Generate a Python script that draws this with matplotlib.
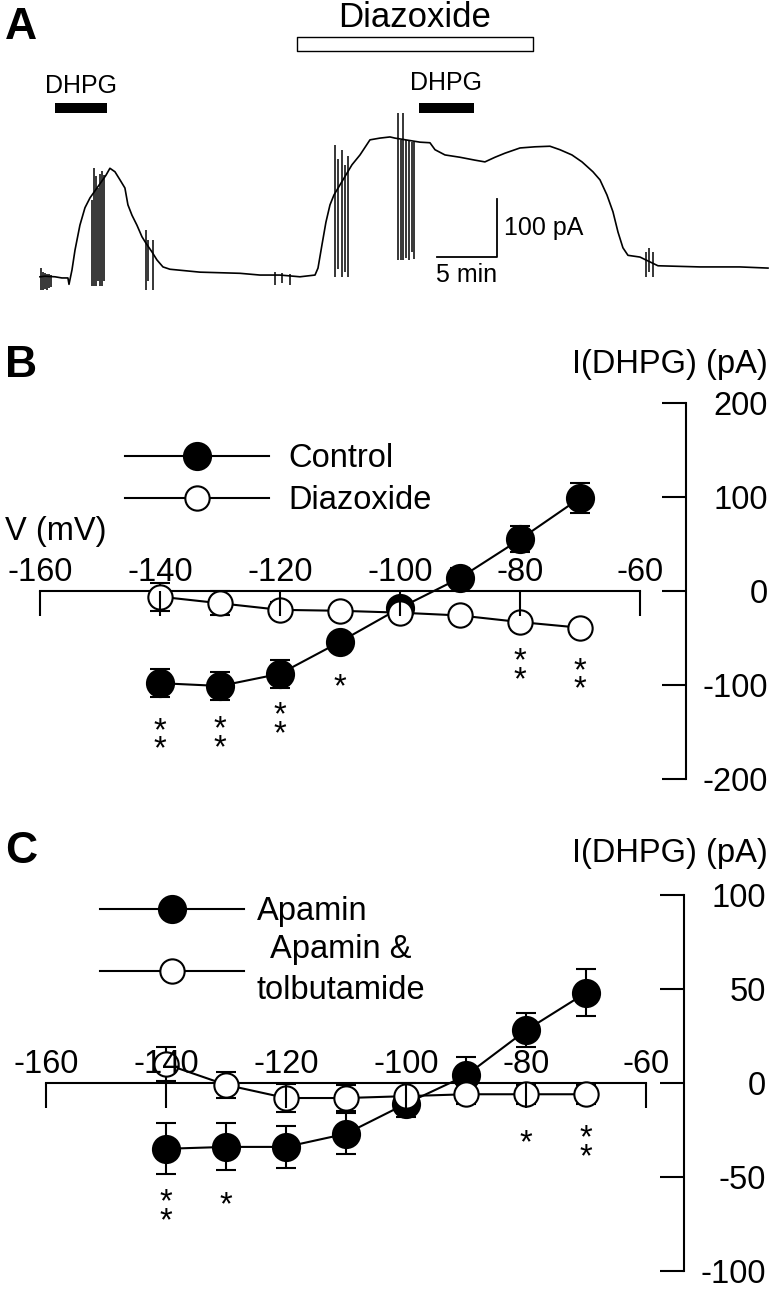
import matplotlib.pyplot as plt
import numpy as np

plt.rcParams['font.family'] = ['Liberation Sans', 'DejaVu Sans']
plt.rcParams['axes.unicode_minus'] = False

# ---- A: holding current trace (time in min, current in pA)
trace_t = [0, 0.42, 1.25, 1.83, 2.33, 2.42, 2.67, 2.92, 3.33, 3.75, 4.17, 5.5, 5.83, 6.25,
           6.67, 7.08, 7.33, 7.67, 8.08, 8.5, 8.83, 9.33, 9.75, 10.25, 10.83, 13.33, 16.67,
           18.33, 20, 21.67, 22.92, 23.17, 23.5, 23.83, 24.17, 24.5, 26, 26.67, 27.5, 28.33,
           29.17, 29.58, 31.67, 32.5, 32.92, 33.75, 35, 36.25, 37.08, 37.92, 38.75, 40, 41.25,
           42.5, 43.33, 44.33, 45.17, 46.08, 46.67, 47.25, 47.75, 48.17, 48.58, 49, 50, 51.5,
           55, 58.33, 60.67]
trace_i = [-3, -2, -3, -5, -5, -16, 9, 43, 86, 116, 133, 172, 184, 178, 164, 150, 121, 103,
           86, 66, 55, 40, 26, 14, 10, 5, 3, 0, 0, -3, 0, 12, 52, 91, 121, 138, 190, 207, 233,
           236, 238, 236, 229, 228, 216, 207, 203, 198, 195, 203, 210, 219, 221, 222, 216, 207,
           195, 178, 164, 138, 109, 74, 47, 34, 31, 16, 14, 14, 12]
# fast transients (voltage steps) drawn as vertical strokes
spike_t = [0.08, 0.25, 0.42, 0.58, 0.75, 0.92,
           4.33, 4.5, 4.67, 4.83, 5.0, 5.17, 5.33,
           8.83, 9.0, 9.42,
           19.6, 20.2, 20.8,
           24.6, 24.8, 25.2, 25.4, 25.7,
           29.83, 30.08, 30.25, 30.5, 30.75, 31.0, 31.17,
           50.5, 50.75, 51.1]
spike_lo = [-26, -26, -24, -26, -22, -20,
            -19, -19, -19, -10, -19, -19, -10,
            -26, -10, -26,
            -17, -14, -17,
            -3, 10, -3, 5, -3,
            26, 26, 26, 30, 26, 40, 28,
            -3, 5, -3]
spike_hi = [12, 5, 3, 2, 2, 0,
            130, 184, 170, 150, 175, 180, 172,
            78, 60, 60,
            5, 3, 2,
            224, 200, 215, 190, 205,
            279, 233, 279, 233, 233, 230, 229,
            40, 47, 40]
dhpg_start = [1.25, 31.58]
dhpg_end = [5.58, 36.17]
diaz_start, diaz_end = 21.42, 41.08
scale_min, scale_pa = 5, 100

# ---- B: I-V of DHPG current, control vs diazoxide
volt = [-140, -130, -120, -110, -100, -90, -80, -70]
ctrl = [-98, -101, -88, -54, -18, 14, 55, 99]
ctrl_err = [15, 15, 15, 8, 8, 10, 14, 16]
diaz = [-6, -13, -20, -21, -23, -26, -33, -39]
diaz_err = [15, 13, 8, 6, 8, 6, 8, 6]
# significance marks: voltage, height of first star, number of stars
star_b_v = [-140, -130, -120, -110, -80, -70]
star_b_y = [-140, -138, -123, -93, -66, -76]
star_b_n = [2, 2, 2, 1, 2, 2]

# ---- C: apamin vs apamin & tolbutamide
apa = [-35, -34, -34, -27, -11, 4, 28, 48]
apa_err = [13.5, 12.5, 11, 11, 7, 10, 9, 12.5]
tol = [10, -1, -8, -8, -7, -6, -6, -6]
tol_err = [9, 7, 7.5, 7, 7, 5, 5, 5]
star_c_v = [-140, -130, -80, -70]
star_c_y = [-59, -60, -27, -25]
star_c_n = [2, 1, 1, 2]

W, H = 771, 1301
FS = 23.5
fig = plt.figure(figsize=(W / 100, H / 100), dpi=100)


def px_axes(top, bottom):
    return fig.add_axes([0, 1 - bottom / H, 1, (bottom - top) / H])


# ---------------- panel A
axA = px_axes(0, 300)
axA.set_xlim(-3.33, 60.92)
axA.set_ylim(-43, 474)
axA.axis('off')
axA.plot(trace_t, trace_i, color='k', lw=1.2)
axA.vlines(spike_t, spike_lo, spike_hi, color='k', lw=1.1)
axA.broken_barh([(s, e - s) for s, e in zip(dhpg_start, dhpg_end)], (279, 17), facecolor='k')
axA.broken_barh([(diaz_start, diaz_end - diaz_start)], (386, 24), facecolor='white',
                edgecolor='k', lw=1)
axA.text(np.mean([dhpg_start[0], dhpg_end[0]]), 314, 'DHPG', ha='center', va='baseline', fontsize=18)
axA.text(np.mean([dhpg_start[1], dhpg_end[1]]), 319, 'DHPG', ha='center', va='baseline', fontsize=18)
axA.text((diaz_start + diaz_end) / 2, 428, 'Diazoxide', ha='center', va='baseline', fontsize=25)
sb_t, sb_i = 38.08, 31
axA.plot([sb_t - scale_min, sb_t, sb_t], [sb_i, sb_i, sb_i + scale_pa], color='k', lw=1.3)
axA.text(sb_t + 0.6, 69, '%d pA' % scale_pa, ha='left', va='baseline', fontsize=18)
axA.text(sb_t - scale_min / 2, -12, '%d min' % scale_min, ha='center', va='baseline', fontsize=18)


def iv_axes(ax, xr, yr, yaxis_x, yticks):
    ax.set_xlim(*xr)
    ax.set_ylim(*yr)
    ax.set_axisbelow(False)
    for s in ['left', 'bottom']:
        ax.spines[s].set_visible(False)
    ax.spines['top'].set_position(('data', 0))
    ax.spines['top'].set_bounds(-160, -60)
    ax.spines['right'].set_position(('data', yaxis_x))
    ax.spines['right'].set_bounds(yticks[0], yticks[-1])
    for s in ['top', 'right']:
        ax.spines[s].set_linewidth(1.5)
        ax.spines[s].set_zorder(1)
    ax.xaxis.set_ticks_position('top')
    ax.set_xticks([-160, -140, -120, -100, -80, -60])
    ax.tick_params(axis='x', direction='in', length=18, width=1.5, pad=2, labelsize=FS)
    ax.yaxis.set_ticks_position('right')
    ax.set_yticks(yticks)
    ax.tick_params(axis='y', direction='in', length=17, width=1.5, pad=59, labelsize=FS)
    for lab in ax.get_yticklabels():
        lab.set_horizontalalignment('right')


def series(ax, y, err, face, ms):
    return ax.errorbar(volt, y, yerr=err, fmt='-o', color='k', mfc=face, mec='k', ms=ms,
                       mew=1.5, lw=1.5, elinewidth=1.5, capsize=7, capthick=1.5)


def stars(ax, vs, ys, ns):
    # anchored on the last line's baseline, so shift down by the extra rows
    for v, y, n in zip(vs, ys, ns):
        ax.annotate('\n'.join(['*'] * n), (v, y), xytext=(0, -13 - 13 * (n - 1)),
                    textcoords='offset points', ha='center', va='baseline',
                    fontsize=FS, linespacing=0.48)


# ---------------- panel B
axB = px_axes(330, 800)
iv_axes(axB, (-166.67, -38.17), (-222.3, 277.7), -52.33, [-200, -100, 0, 100, 200])
ebc = series(axB, ctrl, ctrl_err, 'k', 19.5)
ebd = series(axB, diaz, diaz_err, 'white', 17.5)
stars(axB, star_b_v, star_b_y, star_b_n)
axB.legend([ebc.lines[0], ebd.lines[0]], ['Control', 'Diazoxide'], loc='upper left',
           bbox_to_anchor=(125 / W, 1 - 443 / H), bbox_transform=fig.transFigure,
           frameon=False, fontsize=FS, handlelength=4.4, handletextpad=0.62,
           borderpad=0, borderaxespad=0, labelspacing=0.34, numpoints=1)

# ---------------- panel C
axC = px_axes(850, 1290)
iv_axes(axC, (-167.67, -39.17), (-110.1, 123.9), -53.67, [-100, -50, 0, 50, 100])
eba = series(axC, apa, apa_err, 'k', 19.5)
ebt = series(axC, tol, tol_err, 'white', 17.5)
stars(axC, star_c_v, star_c_y, star_c_n)
legC = axC.legend([eba.lines[0], ebt.lines[0]], ['Apamin', 'Apamin &\ntolbutamide'],
                  loc='upper left', bbox_to_anchor=(100 / W, 1 - 896 / H),
                  bbox_transform=fig.transFigure, frameon=False, fontsize=FS,
                  handlelength=4.4, handletextpad=0.4, borderpad=0, borderaxespad=0,
                  labelspacing=0.22, numpoints=1)
legC.get_texts()[1].set_multialignment('center')
legC.get_texts()[1].set_linespacing(1.4)

# ---------------- labels
fig.text(5 / W, 1 - 39 / H, 'A', fontsize=32, fontweight='bold', va='baseline')
fig.text(5 / W, 1 - 377 / H, 'B', fontsize=32, fontweight='bold', va='baseline')
fig.text(5 / W, 1 - 863 / H, 'C', fontsize=32, fontweight='bold', va='baseline')
fig.text(5 / W, 1 - 540 / H, 'V (mV)', fontsize=FS, va='baseline')
fig.text(768 / W, 1 - 373 / H, 'I(DHPG) (pA)', fontsize=FS, ha='right', va='baseline')
fig.text(768 / W, 1 - 862 / H, 'I(DHPG) (pA)', fontsize=FS, ha='right', va='baseline')

fig.savefig('out.png', dpi=100)
